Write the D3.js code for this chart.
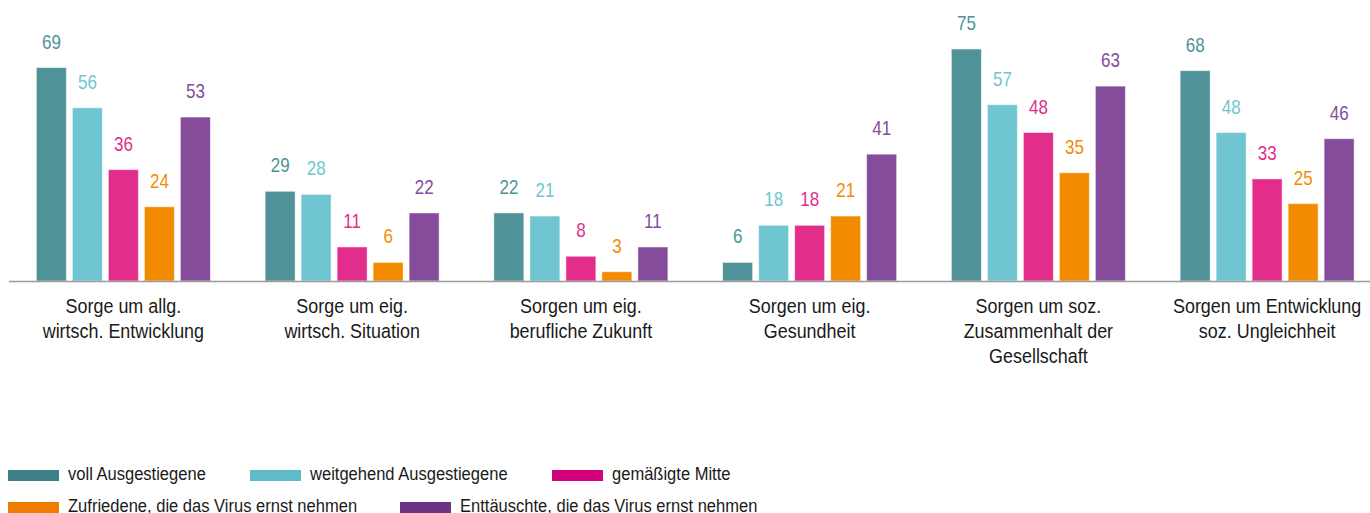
<!DOCTYPE html>
<html>
<head>
<meta charset="utf-8">
<script src="https://cdn.jsdelivr.net/npm/d3@7"></script>
<style>
  body { margin: 0; background: #fff; }
  svg text { font-family: "Liberation Sans", Arial, sans-serif; }
</style>
</head>
<body>
<div id="chart"></div>
<script>
// categories (multi-line labels)
var categories = [
  ["Sorge um allg.", "wirtsch. Entwicklung"],
  ["Sorge um eig.", "wirtsch. Situation"],
  ["Sorgen um eig.", "berufliche Zukunft"],
  ["Sorgen um eig.", "Gesundheit"],
  ["Sorgen um soz.", "Zusammenhalt der", "Gesellschaft"],
  ["Sorgen um Entwicklung", "soz. Ungleichheit"]
];
var series = [
  "voll Ausgestiegene",
  "weitgehend Ausgestiegene",
  "gemäßigte Mitte",
  "Zufriedene, die das Virus ernst nehmen",
  "Enttäuschte, die das Virus ernst nehmen"
];
var vollAusgestiegene       = [69, 29, 22, 6, 75, 68];
var weitgehendAusgestiegene = [56, 28, 21, 18, 57, 48];
var gemaessigteMitte        = [36, 11, 8, 18, 48, 33];
var zufriedene              = [24, 6, 3, 21, 35, 25];
var enttaeuschte            = [53, 22, 11, 41, 63, 46];
var values = [vollAusgestiegene, weitgehendAusgestiegene, gemaessigteMitte, zufriedene, enttaeuschte];

var barColors    = ["#4f9298", "#6fc6d2", "#e22d8b", "#f28b00", "#844c9b"];
var legendColors = ["#3e8087", "#5ebbc9", "#d5007c", "#ef7d00", "#6d3486"];

var width = 1370, height = 513;
var baseline = 281;

var svg = d3.select("#chart").append("svg")
  .attr("width", width)
  .attr("height", height);

var catKeys = categories.map(function(d, i) { return i; });

// outer scale: one band per category
var x0 = d3.scaleBand()
  .domain(catKeys)
  .range([9, 1381.5])
  .padding(0);

// inner scale: bars inside a group
var x1 = d3.scaleBand()
  .domain(d3.range(series.length))
  .range([0, 174])
  .paddingInner(6 / 36)
  .paddingOuter(0);

var y = d3.scaleLinear()
  .domain([0, 75])
  .range([baseline, 49]);

// narrow text: the original uses a condensed face
function squeeze(sel, sx, fx, fy) {
  sel.attr("transform", function(d, i) {
    return "translate(" + fx(d, i) + "," + fy(d, i) + ") scale(" + sx + ",1)";
  });
}

var groups = svg.selectAll("g.group")
  .data(catKeys)
  .enter().append("g")
  .attr("class", "group")
  .attr("transform", function(d) {
    return "translate(" + (x0(d) + x0.bandwidth() / 2 - 87) + ",0)";
  });

groups.selectAll("rect")
  .data(function(c) { return values.map(function(s, si) { return {s: si, v: s[c]}; }); })
  .enter().append("rect")
  .attr("x", function(d) { return x1(d.s); })
  .attr("y", function(d) { return y(d.v); })
  .attr("width", x1.bandwidth())
  .attr("height", function(d) { return baseline - y(d.v); })
  .attr("fill", function(d) { return barColors[d.s]; })
  .attr("stroke", "#ffffff")
  .attr("stroke-opacity", 0.5)
  .attr("stroke-width", 1);

groups.selectAll("text.val")
  .data(function(c) { return values.map(function(s, si) { return {s: si, v: s[c]}; }); })
  .enter().append("text")
  .attr("class", "val")
  .attr("text-anchor", "middle")
  .attr("font-size", 20)
  .attr("fill", function(d) { return barColors[d.s]; })
  .text(function(d) { return d.v; })
  .call(squeeze, 0.85,
    function(d) { return x1(d.s) + x1.bandwidth() / 2; },
    function(d) { return y(d.v) - 19; });

// baseline
svg.append("line")
  .attr("x1", 9).attr("x2", width)
  .attr("y1", baseline + 0.5).attr("y2", baseline + 0.5)
  .attr("stroke", "#9a9a9a")
  .attr("stroke-width", 1.5);

// category labels, one text per line
var catLines = [];
categories.forEach(function(lines, c) {
  lines.forEach(function(t, i) { catLines.push({c: c, i: i, t: t}); });
});
svg.selectAll("text.cat")
  .data(catLines)
  .enter().append("text")
  .attr("class", "cat")
  .attr("text-anchor", "middle")
  .attr("font-size", 19.5)
  .attr("fill", "#1a1a1a")
  .text(function(d) { return d.t; })
  .call(squeeze, 0.92,
    function(d) { return x0(d.c) + x0.bandwidth() / 2; },
    function(d) { return 313 + d.i * 25; });

// legend
var legendPos = [
  {x: 8, y: 470}, {x: 250, y: 470}, {x: 552, y: 470},
  {x: 8, y: 502}, {x: 400, y: 502}
];
var legend = svg.selectAll("g.legend")
  .data(series)
  .enter().append("g")
  .attr("class", "legend")
  .attr("transform", function(d, i) { return "translate(" + legendPos[i].x + "," + legendPos[i].y + ")"; });

legend.append("rect")
  .attr("width", 51)
  .attr("height", 11)
  .attr("fill", function(d, i) { return legendColors[i]; });

legend.append("text")
  .attr("font-size", 17.5)
  .attr("fill", "#1a1a1a")
  .text(function(d) { return d; })
  .call(squeeze, 0.945, function() { return 60; }, function() { return 9.5; });
</script>
</body>
</html>
